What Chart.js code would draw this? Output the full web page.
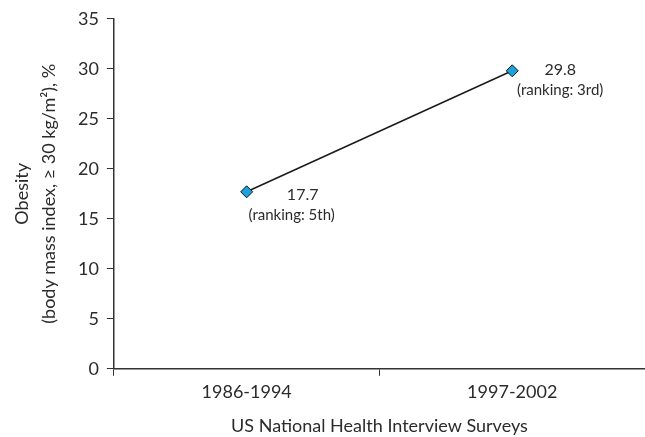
<!DOCTYPE html>
<html>
<head>
<meta charset="utf-8">
<script src="https://cdn.jsdelivr.net/npm/chart.js@4/dist/chart.umd.min.js"></script>
<style>
  body { margin: 0; background: #fff; overflow: hidden; }
  #wrap { width: 652px; height: 437px; }
</style>
</head>
<body>
<div id="wrap"><canvas id="obesityChart"></canvas></div>
<script>
const periods = ["1986-1994", "1997-2002"];
const obesity = [17.7, 29.8];
const rankings = ["(ranking: 5th)", "(ranking: 3rd)"];
const yTicks = [0, 5, 10, 15, 20, 25, 30, 35];

const textColor = "#2b2b2b";
const fontFamily = "Lato, 'Open Sans', sans-serif";

// draws the value and ranking next to each point
const pointLabels = {
    id: "pointLabels",
    afterDatasetsDraw(chart) {
        const {ctx} = chart;
        const meta = chart.getDatasetMeta(0);
        // label offsets from the marker, per point
        const valueOff = [[56, 3], [48, -1]];
        const rankOff = [[45, 23], [48, 19]];
        ctx.save();
        ctx.fillStyle = textColor;
        ctx.textAlign = "center";
        ctx.textBaseline = "middle";
        meta.data.forEach((pt, i) => {
            ctx.font = "16px " + fontFamily;
            ctx.fillText(obesity[i].toFixed(1), pt.x + valueOff[i][0], pt.y + valueOff[i][1]);
            ctx.font = "15px " + fontFamily;
            ctx.fillText(rankings[i], pt.x + rankOff[i][0], pt.y + rankOff[i][1]);
        });
        ctx.restore();
    }
};

new Chart(document.getElementById("obesityChart"), {
    type: "line",
    data: {
        labels: periods,
        datasets: [{
            data: obesity,
            borderColor: "#1a1a1a",
            borderWidth: 1.5,
            pointStyle: "rectRot",
            pointRadius: 6,
            pointBackgroundColor: "#1ba3dd",
            pointBorderColor: "#111",
            pointBorderWidth: 1,
            tension: 0
        }]
    },
    options: {
        responsive: true,
        maintainAspectRatio: false,
        animation: false,
        layout: {padding: {top: 12, right: 0, left: 9, bottom: 0}},
        plugins: {
            legend: {display: false},
            tooltip: {enabled: false}
        },
        scales: {
            x: {
                offset: true,
                grid: {
                    offset: true,
                    drawOnChartArea: false,
                    drawTicks: true,
                    tickLength: 7,
                    color: "#333"
                },
                border: {color: "#333", width: 1.5},
                ticks: {
                    color: textColor,
                    font: {family: fontFamily, size: 18},
                    padding: 6
                },
                title: {
                    display: true,
                    text: "US National Health Interview Surveys",
                    color: textColor,
                    font: {family: fontFamily, size: 18},
                    padding: {top: 6, bottom: 0}
                }
            },
            y: {
                min: 0,
                max: 35,
                afterBuildTicks(axis) {
                    axis.ticks = yTicks.map(v => ({value: v}));
                },
                grid: {
                    drawOnChartArea: false,
                    drawTicks: true,
                    tickLength: 7,
                    color: "#333"
                },
                border: {color: "#333", width: 1.5},
                ticks: {
                    color: textColor,
                    font: {family: fontFamily, size: 18},
                    padding: 8
                },
                title: {
                    display: true,
                    text: ["Obesity", "(body mass index, \u2265 30 kg/m\u00b2), %"],
                    color: textColor,
                    font: {family: fontFamily, size: 18, lineHeight: 1.5},
                    padding: {top: 0, bottom: 7}
                }
            }
        }
    },
    plugins: [pointLabels]
});
</script>
</body>
</html>
